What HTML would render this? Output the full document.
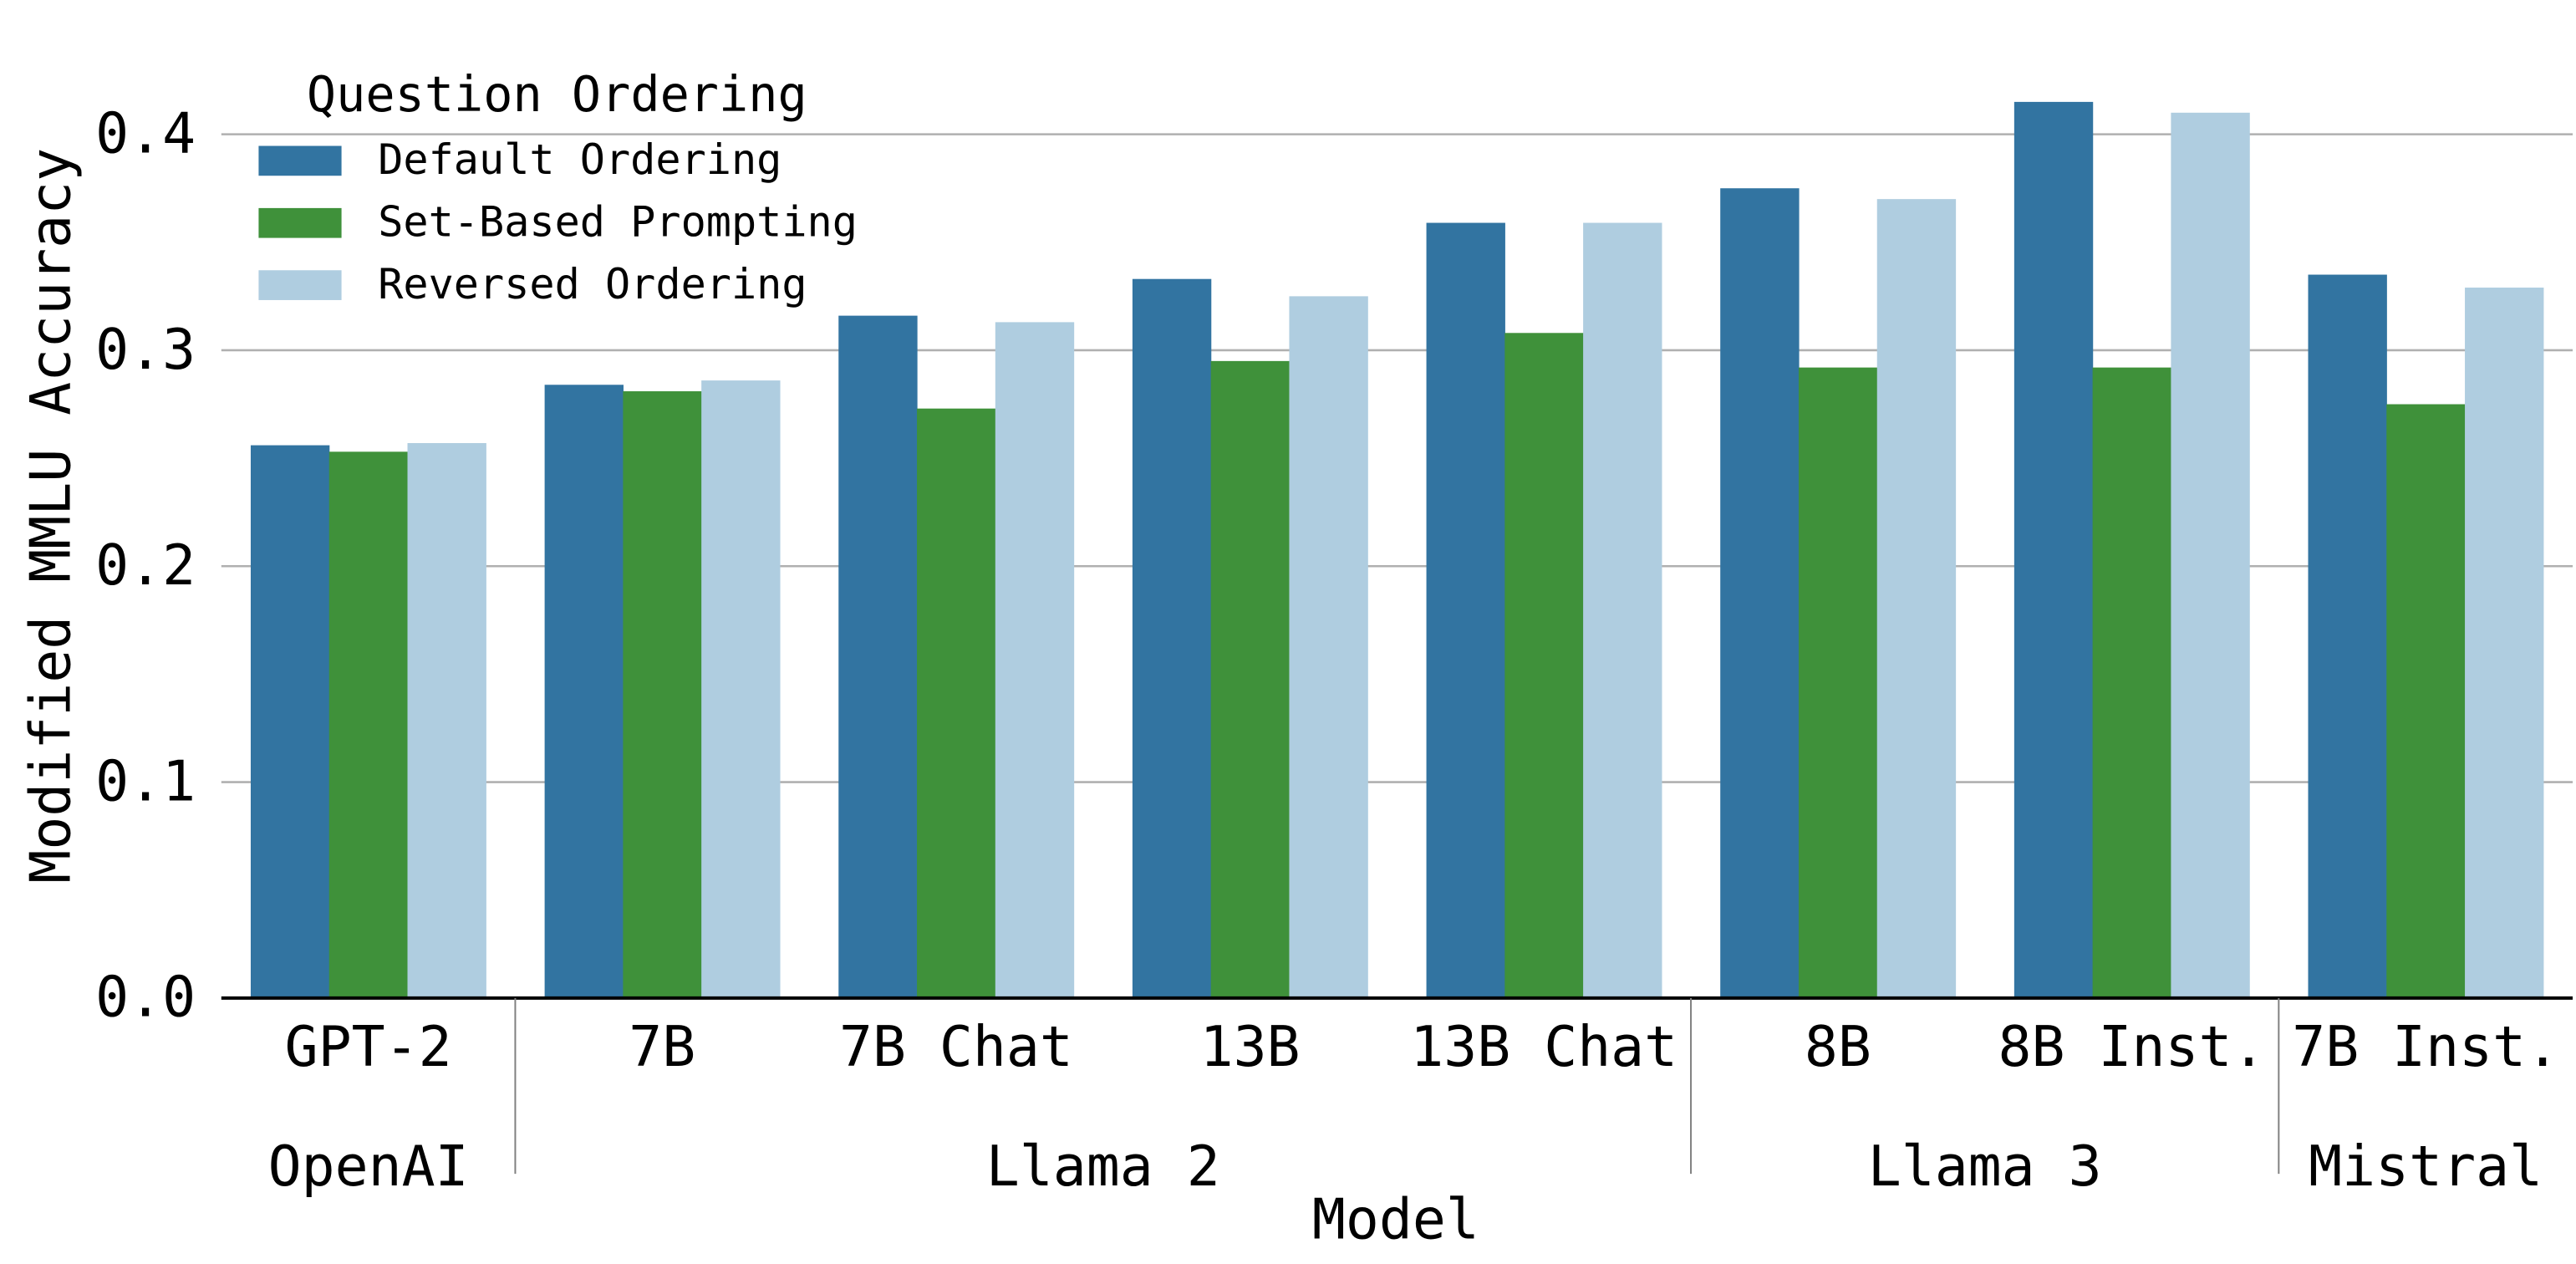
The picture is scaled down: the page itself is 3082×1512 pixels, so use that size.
<!DOCTYPE html>
<html><head><meta charset="utf-8">
<style>html,body{margin:0;padding:0;background:#fff}svg{display:block}text{font-family:"DejaVu Sans Mono","Liberation Mono",monospace;fill:#000}</style>
</head><body>
<svg id="chart" width="3082" height="1512" viewBox="0 0 1554 762.4" xmlns="http://www.w3.org/2000/svg">
<g id="grid"></g>
<g id="bars"></g>
<g id="axes"></g>
<g id="legend">
<text x="185" y="67" font-size="29.5">Question Ordering</text>
</g>
</svg>
<script>
const categories = ["GPT-2","7B","7B Chat","13B","13B Chat","8B","8B Inst.","7B Inst."];
const groups = ["OpenAI","Llama 2","Llama 3","Mistral"];
const groupSpans = [[0,0],[1,4],[5,6],[7,7]];
const seriesNames = ["Default Ordering","Set-Based Prompting","Reversed Ordering"];
const defaultOrdering = [0.256,0.284,0.316,0.333,0.359,0.375,0.415,0.335];
const setBased = [0.253,0.281,0.273,0.295,0.308,0.292,0.292,0.275];
const reversedOrdering = [0.257,0.286,0.313,0.325,0.359,0.370,0.410,0.329];
const yTicks = [0.0,0.1,0.2,0.3,0.4];
const yTickLabels = ["0.0","0.1","0.2","0.3","0.4"];
const colors = ["#3274a1","#3f913a","#afcde0"];
const NS="http://www.w3.org/2000/svg";
const L=133.5,R=1552,B=602,T=81;
const step=(R-L)/categories.length;
const xc=i=>L+step*(i+0.5);
const y=v=>B-(v/0.4)*(B-T);
function mk(tag,attrs,parent){const e=document.createElementNS(NS,tag);for(const k in attrs)e.setAttribute(k,attrs[k]);parent.appendChild(e);return e;}
const grid=document.getElementById('grid'),bars=document.getElementById('bars'),axes=document.getElementById('axes'),legend=document.getElementById('legend');
yTicks.forEach((t,i)=>{
  if(t>0){const g=mk('line',{x1:L,x2:R,y1:y(t),y2:y(t),stroke:'#b0b0b0','stroke-width':1.3},grid);
  
  }
  const tx=mk('text',{x:118,y:y(t)+11,'font-size':33.5,'text-anchor':'end'},axes);
  tx.textContent=yTickLabels[i];
  
  
});
const series=[defaultOrdering,setBased,reversedOrdering];
const bw=step*0.8/3;
series.forEach((s,si)=>{
  s.forEach((v,i)=>{
    const r=mk('rect',{x:xc(i)-step*0.4+si*bw,y:y(v),width:bw+0.3,height:B-y(v),fill:colors[si]},bars);
    
    
  });
});
const ax=mk('line',{x1:L,x2:R,y1:B,y2:B,stroke:'#000','stroke-width':2},axes);


categories.forEach((c,i)=>{
  const t=mk('text',{x:xc(i),y:B+41,'font-size':33.5,'text-anchor':'middle'},axes);
  t.textContent=c;
  
  
});
groupSpans.forEach((sp,gi)=>{
  const cx=(xc(sp[0])+xc(sp[1]))/2;
  const t=mk('text',{x:cx,y:715,'font-size':33.5,'text-anchor':'middle'},axes);
  t.textContent=groups[gi];
  
  
  if(gi>0){const l=mk('line',{x1:L+step*sp[0],x2:L+step*sp[0],y1:B,y2:708,stroke:'#808080','stroke-width':1},axes);
  
  }
});
const xt=mk('text',{x:842,y:747,'font-size':33.5,'text-anchor':'middle'},axes);
xt.textContent='Model';


const yt=mk('text',{x:0,y:0,'font-size':33.5,'text-anchor':'middle',transform:'translate(42,311) rotate(-90)'},axes);
yt.textContent='Modified MMLU Accuracy';


seriesNames.forEach((n,i)=>{
  const yy=88+i*37.5;
  const r=mk('rect',{x:156,y:yy,width:50,height:18,fill:colors[i]},legend);
  
  
  const t=mk('text',{x:228,y:yy+17,'font-size':25.3},legend);
  t.textContent=n;
  
  
});
</script>
</body></html>
